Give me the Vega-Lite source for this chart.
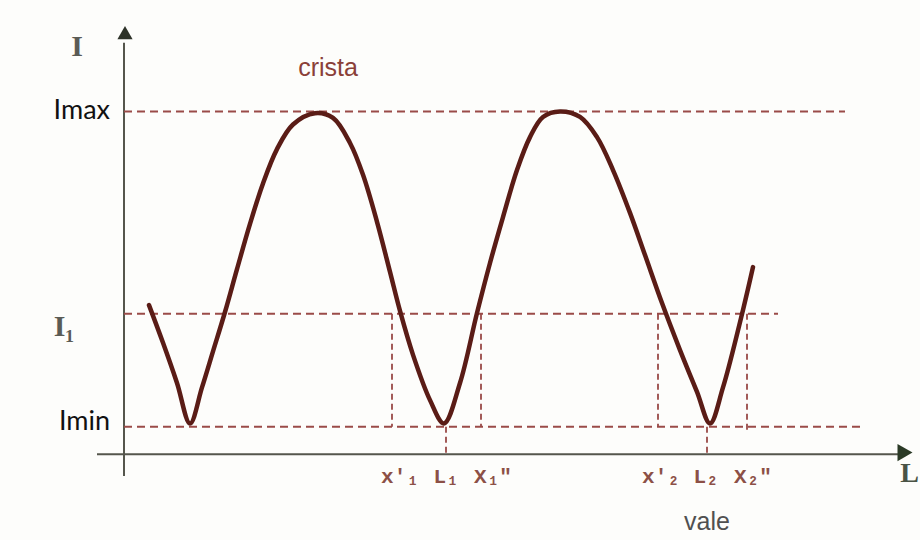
{
  "$schema": "https://vega.github.io/schema/vega-lite/v6.json",
  "autosize": {"type": "fit", "contains": "padding"},
  "width": 920,
  "height": 540,
  "padding": 0,
  "background": "#fdfdfb",
  "config": {"view": {"stroke": null}},
  "datasets": {
    "curve": [
      {"L": 2.5, "I": 4.35}, {"L": 3.9, "I": 3.25}, {"L": 5.3, "I": 2.08}, {"L": 6.6, "I": 0.9},
      {"L": 7.8, "I": 1.95}, {"L": 8.9, "I": 3.0}, {"L": 10.1, "I": 4.15}, {"L": 11.3, "I": 5.4},
      {"L": 12.6, "I": 6.72}, {"L": 13.9, "I": 7.9}, {"L": 15.3, "I": 8.9}, {"L": 16.9, "I": 9.62},
      {"L": 19.1, "I": 9.95}, {"L": 20.9, "I": 9.81}, {"L": 22.6, "I": 9.08}, {"L": 23.9, "I": 8.15},
      {"L": 25.3, "I": 6.78}, {"L": 26.6, "I": 5.32}, {"L": 27.6, "I": 4.18}, {"L": 28.9, "I": 2.9},
      {"L": 30.6, "I": 1.58}, {"L": 32.0, "I": 0.9}, {"L": 33.6, "I": 2.08}, {"L": 35.3, "I": 4.12},
      {"L": 36.6, "I": 5.58}, {"L": 37.9, "I": 6.92}, {"L": 39.3, "I": 8.29}, {"L": 40.6, "I": 9.25},
      {"L": 41.9, "I": 9.84}, {"L": 43.6, "I": 10.0}, {"L": 45.6, "I": 9.84}, {"L": 47.3, "I": 9.25},
      {"L": 48.9, "I": 8.29}, {"L": 50.6, "I": 7.04}, {"L": 52.1, "I": 5.81}, {"L": 53.8, "I": 4.41},
      {"L": 55.6, "I": 3.04}, {"L": 57.3, "I": 1.82}, {"L": 58.6, "I": 0.9}, {"L": 59.9, "I": 1.95},
      {"L": 61.9, "I": 4.21}, {"L": 62.9, "I": 5.46}
    ],
    "levels": [
      {"name": "Imax", "L": 0, "L2": 72.1, "I": 10, "I2": 10},
      {"name": "I1", "L": 0, "L2": 65.4, "I": 4.1, "I2": 4.1},
      {"name": "Imin", "L": 0, "L2": 73.6, "I": 0.8, "I2": 0.8}
    ],
    "drops": [
      {"name": "x'1", "L": 26.8, "L2": 26.8, "I": 4.1, "I2": 0.8},
      {"name": "X1''", "L": 35.7, "L2": 35.7, "I": 4.1, "I2": 0.8},
      {"name": "x'2", "L": 53.4, "L2": 53.4, "I": 4.1, "I2": 0.8},
      {"name": "X2''", "L": 62.3, "L2": 62.3, "I": 4.1, "I2": 0.65},
      {"name": "L1", "L": 32.2, "L2": 32.2, "I": 0.8, "I2": 0},
      {"name": "L2", "L": 58.3, "L2": 58.3, "I": 0.8, "I2": 0}
    ],
    "axes": [
      {"name": "I", "L": 0, "L2": 0, "I": -0.63, "I2": 12.0},
      {"name": "L", "L": -2.7, "L2": 77.4, "I": 0, "I2": 0}
    ]
  },
  "layer": [
    {
      "data": {"name": "axes"},
      "mark": {"type": "rule", "color": "#55564c", "strokeWidth": 2},
      "encoding": {
        "x": {"field": "L", "type": "quantitative", "scale": {"domain": [-12.4, 79.6], "nice": false, "zero": false}, "axis": null},
        "x2": {"field": "L2"},
        "y": {"field": "I", "type": "quantitative", "scale": {"domain": [-2.5, 13.25], "nice": false, "zero": false}, "axis": null},
        "y2": {"field": "I2"}
      }
    },
    {
      "data": {"values": [{"L": 0.1, "I": 12.3, "dir": "up"}]},
      "mark": {"type": "point", "shape": "triangle-up", "filled": true, "size": 230, "color": "#2e3329", "opacity": 1},
      "encoding": {
        "x": {"field": "L", "type": "quantitative"},
        "y": {"field": "I", "type": "quantitative"}
      }
    },
    {
      "data": {"values": [{"L": 78.1, "I": 0.05, "dir": "right"}]},
      "mark": {"type": "point", "shape": "triangle-right", "filled": true, "size": 300, "color": "#2b3a26", "opacity": 1},
      "encoding": {
        "x": {"field": "L", "type": "quantitative"},
        "y": {"field": "I", "type": "quantitative"}
      }
    },
    {
      "data": {"name": "levels"},
      "mark": {"type": "rule", "color": "#9a4b48", "strokeWidth": 2, "strokeDash": [8, 5]},
      "encoding": {
        "x": {"field": "L", "type": "quantitative"},
        "x2": {"field": "L2"},
        "y": {"field": "I", "type": "quantitative"},
        "y2": {"field": "I2"}
      }
    },
    {
      "data": {"name": "drops"},
      "mark": {"type": "rule", "color": "#9a4b48", "strokeWidth": 1.8, "strokeDash": [6, 4]},
      "encoding": {
        "x": {"field": "L", "type": "quantitative"},
        "x2": {"field": "L2"},
        "y": {"field": "I", "type": "quantitative"},
        "y2": {"field": "I2"}
      }
    },
    {
      "data": {"name": "curve"},
      "mark": {"type": "line", "color": "#5a1c16", "strokeWidth": 4.5, "interpolate": "catmull-rom", "strokeCap": "round", "strokeJoin": "round"},
      "encoding": {
        "x": {"field": "L", "type": "quantitative"},
        "y": {"field": "I", "type": "quantitative"}
      }
    },
    {
      "data": {"values": [
        {"text": "Imax", "L": -1.4, "I": 10.0},
        {"text": "Imin", "L": -1.4, "I": 0.95}
      ]},
      "mark": {"type": "text", "font": "Lato", "fontSize": 27, "color": "#111111", "align": "right", "baseline": "middle"},
      "encoding": {
        "x": {"field": "L", "type": "quantitative"},
        "y": {"field": "I", "type": "quantitative"},
        "text": {"field": "text"}
      }
    },
    {
      "data": {"values": [
        {"text": "I", "L": -4.7, "I": 11.88},
        {"text": "I₁", "L": -6.0, "I": 3.7}
      ]},
      "mark": {"type": "text", "font": "Liberation Serif", "fontSize": 30, "fontWeight": "bold", "color": "#5a5b55", "align": "center", "baseline": "middle"},
      "encoding": {
        "x": {"field": "L", "type": "quantitative"},
        "y": {"field": "I", "type": "quantitative"},
        "text": {"field": "text"}
      }
    },
    {
      "data": {"values": [{"text": "L", "L": 79.5, "I": -0.57}]},
      "mark": {"type": "text", "font": "Liberation Serif", "fontSize": 28, "fontWeight": "bold", "color": "#4a5345", "align": "right", "baseline": "middle"},
      "encoding": {
        "x": {"field": "L", "type": "quantitative"},
        "y": {"field": "I", "type": "quantitative"},
        "text": {"field": "text"}
      }
    },
    {
      "data": {"values": [{"text": "crista", "L": 20.4, "I": 11.27}]},
      "mark": {"type": "text", "font": "Liberation Sans", "fontSize": 25, "color": "#8a4038", "align": "center", "baseline": "middle"},
      "encoding": {
        "x": {"field": "L", "type": "quantitative"},
        "y": {"field": "I", "type": "quantitative"},
        "text": {"field": "text"}
      }
    },
    {
      "data": {"values": [{"text": "vale", "L": 58.3, "I": -1.97}]},
      "mark": {"type": "text", "font": "Liberation Sans", "fontSize": 25, "color": "#505050", "align": "center", "baseline": "middle"},
      "encoding": {
        "x": {"field": "L", "type": "quantitative"},
        "y": {"field": "I", "type": "quantitative"},
        "text": {"field": "text"}
      }
    },
    {
      "data": {"values": [
        {"text": "x'₁", "L": 27.6, "I": -0.66},
        {"text": "L₁", "L": 32.2, "I": -0.66},
        {"text": "X₁″", "L": 36.9, "I": -0.66},
        {"text": "x'₂", "L": 53.7, "I": -0.66},
        {"text": "L₂", "L": 58.2, "I": -0.66},
        {"text": "X₂″", "L": 62.9, "I": -0.66}
      ]},
      "mark": {"type": "text", "font": "Liberation Mono", "fontSize": 21, "fontWeight": "bold", "color": "#8c5046", "align": "center", "baseline": "middle"},
      "encoding": {
        "x": {"field": "L", "type": "quantitative"},
        "y": {"field": "I", "type": "quantitative"},
        "text": {"field": "text"}
      }
    }
  ]
}
